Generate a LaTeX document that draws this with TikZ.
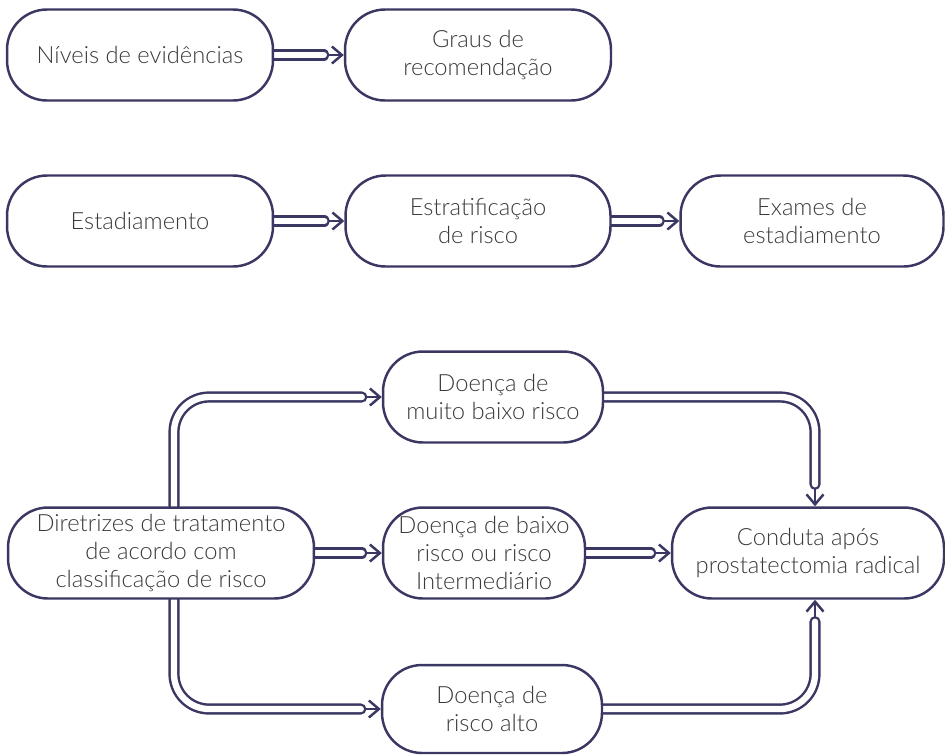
\documentclass[tikz,border=0pt]{standalone}
\usepackage{fontspec}
\setmainfont{Lato}[UprightFont={* Light}]
\usetikzlibrary{arrows.meta}
\usetikzlibrary{calc}
\usetikzlibrary{backgrounds}

\definecolor{tinta}{HTML}{3B3763}
\definecolor{texto}{HTML}{3A3A3A}

\tikzset{
  caixa/.style={draw=tinta, line width=1.4pt, fill=white, rounded corners=0.8cm,
    align=center, text=texto, inner sep=0pt, minimum height=1.82cm,
    font=\fontsize{13.5}{16}\selectfont},
  tubo/.style={draw=tinta, line width=1.4pt, double=white, double distance=3.6pt,
    line cap=round, rounded corners=0.7cm},
  ponta/.style={draw=tinta, line width=1.4pt, -{Straight Barb[length=2mm, width=3.4mm]}},
}

\begin{document}
\begin{tikzpicture}[x=0.02cm, y=-0.02cm]
    \useasboundingbox (0,0) rectangle (945,755);

    % Evidencias -> recomendacao
    \node[caixa, minimum width=5.32cm] (niveis) at (140,55) {Níveis de evidências};
    \node[caixa, minimum width=5.32cm] (graus) at (478,55) {Graus de\\recomendação};

    % Estadiamento
    \node[caixa, minimum width=5.32cm] (estadiamento) at (140,221) {Estadiamento};
    \node[caixa, minimum width=5.3cm] (estratificacao) at (478,221) {Estratificação\\de risco};
    \node[caixa, minimum width=5.26cm] (exames) at (812,221) {Exames de\\estadiamento};

    % Tratamento
    \node[caixa, minimum width=6.12cm] (diretrizes) at (161,553) {Diretrizes de tratamento\\de acordo com\\classificação de risco};
    \node[caixa, minimum width=4.4cm] (muito) at (493,397) {Doença de\\muito baixo risco};
    \node[caixa, minimum width=4.04cm] (baixo) at (484,553) {Doença de baixo\\risco ou risco\\Intermediário};
    \node[caixa, minimum width=4.4cm, minimum height=1.76cm] (alto) at (492,709) {Doença de\\risco alto};
    \node[caixa, minimum width=5.44cm] (conduta) at (808,553) {Conduta após\\prostatectomia radical};

    % Conectores (tubo + ponta)
    \begin{scope}[on background layer]
        \coordinate (t1) at ($(graus.west)+(-20,0)$);
        \draw[ponta] (t1) -- (graus.west);
        \draw[tubo] (niveis.east) -- (t1);

        \coordinate (t2) at ($(estratificacao.west)+(-20,0)$);
        \draw[ponta] (t2) -- (estratificacao.west);
        \draw[tubo] (estadiamento.east) -- (t2);

        \coordinate (t3) at ($(exames.west)+(-20,0)$);
        \draw[ponta] (t3) -- (exames.west);
        \draw[tubo] (estratificacao.east) -- (t3);

        \coordinate (t4) at ($(muito.west)+(-20,0)$);
        \draw[ponta] (t4) -- (muito.west);
        \draw[tubo] ($(diretrizes.north)+(13,0)$) |- (t4);

        \coordinate (t5) at ($(baixo.west)+(-20,0)$);
        \draw[ponta] (t5) -- (baixo.west);
        \draw[tubo] (diretrizes.east) -- (t5);

        \coordinate (t6) at ($(alto.west)+(-20,0)$);
        \draw[ponta] (t6) -- (alto.west);
        \draw[tubo] ($(diretrizes.south)+(13,0)$) |- (t6);

        \coordinate (t7) at ($(conduta.north)+(7,-22)$);
        \draw[ponta] (t7) -- (t7 |- conduta.north);
        \draw[tubo] (muito.east) -| (t7);

        \coordinate (t8) at ($(conduta.west)+(-20,0)$);
        \draw[ponta] (t8) -- (conduta.west);
        \draw[tubo] (baixo.east) -- (t8);

        \coordinate (t9) at ($(conduta.south)+(7,22)$);
        \draw[ponta] (t9) -- (t9 |- conduta.south);
        \draw[tubo] (alto.east) -| (t9);
    \end{scope}
\end{tikzpicture}
\end{document}
